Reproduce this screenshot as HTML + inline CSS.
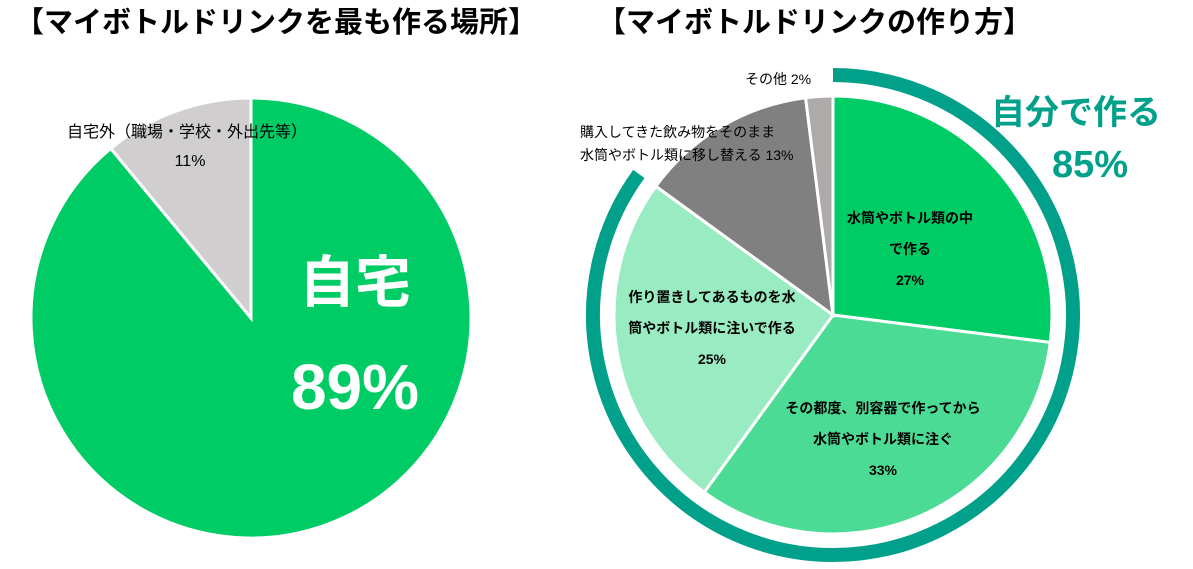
<!DOCTYPE html>
<html><head><meta charset="utf-8"><style>
body{margin:0;width:1193px;height:569px;background:#fff;overflow:hidden;font-family:"Liberation Sans","Noto Sans CJK JP",sans-serif}
svg{display:block}
</style></head><body>
<svg width="1193" height="569">
<g id="root"></g>
</svg>
<script>
const leftLabels=["自宅","自宅外（職場・学校・外出先等）"];
const leftValues=[89,11];
const rightLabels=["水筒やボトル類の中で作る","その都度、別容器で作ってから水筒やボトル類に注ぐ","作り置きしてあるものを水筒やボトル類に注いで作る","購入してきた飲み物をそのまま水筒やボトル類に移し替える","その他"];
const rightValues=[27,33,25,13,2];
const ringValue=85;
const NS="http://www.w3.org/2000/svg";
const root=document.getElementById('root');
function mk(tag,attrs,parent){const e=document.createElementNS(NS,tag);for(const k in attrs)e.setAttribute(k,attrs[k]);(parent||root).appendChild(e);return e;}
function pt(cx,cy,r,f){const a=f*2*Math.PI;return [cx+r*Math.sin(a),cy-r*Math.cos(a)];}
function slice(cx,cy,r,f0,f1){const p0=pt(cx,cy,r,f0),p1=pt(cx,cy,r,f1);const l=(f1-f0)>0.5?1:0;return `M${cx},${cy}L${p0[0]},${p0[1]}A${r},${r} 0 ${l} 1 ${p1[0]},${p1[1]}Z`;}
function arc(cx,cy,r,f0,f1){const p0=pt(cx,cy,r,f0),p1=pt(cx,cy,r,f1);const l=(f1-f0)>0.5?1:0;return `M${p0[0]},${p0[1]}A${r},${r} 0 ${l} 1 ${p1[0]},${p1[1]}`;}
function txt(x,y,s,size,fill,weight,anchor){const t=mk('text',{x:x,y:y,'font-size':size,fill:fill,'font-weight':weight||'normal','text-anchor':anchor||'middle'});t.textContent=s;return t;}

let t=txt(15,32,"【マイボトルドリンクを最も作る場所】",29,"#000","bold","start");


t=txt(597,32,"【マイボトルドリンクの作り方】",29,"#000","bold","start");



// left pie
const lc=['#00CC66','#D0CECE'];
let lsum=leftValues.reduce((a,b)=>a+b,0),acc=0;
leftValues.forEach((v,i)=>{const f0=acc/lsum,f1=(acc+v)/lsum;acc+=v;
 const p=mk('path',{d:slice(251,318,220,f0,f1),fill:lc[i],stroke:'#fff','stroke-width':3});
 
 });
t=txt(355,302,leftLabels[0],56,"#fff","bold");

t=txt(355,409,leftValues[0]+"%",64,"#fff","bold");

t=txt(187,137,leftLabels[1],16,"#000");

t=txt(190,166,leftValues[1]+"%",16,"#000");


// right pie
const cx=833,cy=315,R=219;
const rsum=rightValues.reduce((a,b)=>a+b,0);
const ring=mk('path',{d:arc(cx,cy,240,0,ringValue/rsum),fill:'none',stroke:'#00A08A','stroke-width':14});


const rc=['#00CC66','#4CDB94','#99EBC2','#808080','#AEAAAA'];
acc=0;
rightValues.forEach((v,i)=>{const f0=acc/rsum,f1=(acc+v)/rsum;acc+=v;
 const p=mk('path',{d:slice(cx,cy,R,f0,f1),fill:rc[i],stroke:'#fff','stroke-width':3});
 
 });
function lines(x,y,arr,size,w,gap,name){arr.forEach((s,j)=>{const e=txt(x,y+j*gap,s,size,"#000",w);});}
lines(910,223,["水筒やボトル類の中","で作る",rightValues[0]+"%"],14,"bold",31,"label-in-bottle");
lines(883,413,["その都度、別容器で作ってから","水筒やボトル類に注ぐ",rightValues[1]+"%"],14,"bold",31,"label-separate");
lines(712,302,["作り置きしてあるものを水","筒やボトル類に注いで作る",rightValues[2]+"%"],14,"bold",31,"label-stored");
let e=txt(580,137,"購入してきた飲み物をそのまま",14,"#000","normal","start");

e=txt(580,160,"水筒やボトル類に移し替える  "+rightValues[3]+"%",14,"#000","normal","start");

e=txt(745,84,"その他  "+rightValues[4]+"%",14,"#000","normal","start");

e=txt(1076,124,"自分で作る",34,"#00A08A","bold");

e=txt(1090,177,ringValue+"%",38,"#00A08A","bold");

</script>
</body></html>
